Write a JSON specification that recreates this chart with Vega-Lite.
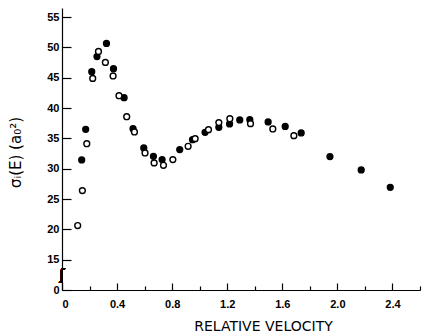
{
  "$schema": "https://vega.github.io/schema/vega-lite/v6.json",
  "width": 358,
  "height": 282,
  "autosize": "none",
  "padding": {"left": 62, "top": 8, "right": 10, "bottom": 45},
  "background": "white",
  "config": {
    "view": {"stroke": null},
    "axis": {"labelFont": "Liberation Sans", "titleFont": "Liberation Sans", "labelColor": "black", "titleColor": "black", "domainColor": "black", "tickColor": "black", "grid": false, "domainWidth": 1.2, "tickWidth": 1.2}
  },
  "data": {
    "values": [
      {"v": 0.143, "s": 31.45, "t": "filled"},
      {"v": 0.172, "s": 36.49, "t": "filled"},
      {"v": 0.216, "s": 46.0, "t": "filled"},
      {"v": 0.254, "s": 48.5, "t": "filled"},
      {"v": 0.323, "s": 50.66, "t": "filled"},
      {"v": 0.374, "s": 46.49, "t": "filled"},
      {"v": 0.451, "s": 41.71, "t": "filled"},
      {"v": 0.516, "s": 36.6, "t": "filled"},
      {"v": 0.594, "s": 33.43, "t": "filled"},
      {"v": 0.664, "s": 32.04, "t": "filled"},
      {"v": 0.727, "s": 31.5, "t": "filled"},
      {"v": 0.855, "s": 33.15, "t": "filled"},
      {"v": 0.948, "s": 34.79, "t": "filled"},
      {"v": 1.039, "s": 36.0, "t": "filled"},
      {"v": 1.139, "s": 36.82, "t": "filled"},
      {"v": 1.217, "s": 37.38, "t": "filled"},
      {"v": 1.291, "s": 38.04, "t": "filled"},
      {"v": 1.364, "s": 38.09, "t": "filled"},
      {"v": 1.497, "s": 37.71, "t": "filled"},
      {"v": 1.621, "s": 36.98, "t": "filled"},
      {"v": 1.737, "s": 35.9, "t": "filled"},
      {"v": 1.946, "s": 32.0, "t": "filled"},
      {"v": 2.173, "s": 29.8, "t": "filled"},
      {"v": 2.384, "s": 26.94, "t": "filled"},
      {"v": 0.114, "s": 20.63, "t": "open"},
      {"v": 0.148, "s": 26.39, "t": "open"},
      {"v": 0.18, "s": 34.13, "t": "open"},
      {"v": 0.223, "s": 44.89, "t": "open"},
      {"v": 0.265, "s": 49.34, "t": "open"},
      {"v": 0.315, "s": 47.53, "t": "open"},
      {"v": 0.371, "s": 45.29, "t": "open"},
      {"v": 0.414, "s": 42.04, "t": "open"},
      {"v": 0.47, "s": 38.58, "t": "open"},
      {"v": 0.526, "s": 36.06, "t": "open"},
      {"v": 0.603, "s": 32.6, "t": "open"},
      {"v": 0.669, "s": 30.96, "t": "open"},
      {"v": 0.737, "s": 30.56, "t": "open"},
      {"v": 0.805, "s": 31.5, "t": "open"},
      {"v": 0.916, "s": 33.69, "t": "open"},
      {"v": 0.967, "s": 34.96, "t": "open"},
      {"v": 1.064, "s": 36.44, "t": "open"},
      {"v": 1.139, "s": 37.6, "t": "open"},
      {"v": 1.219, "s": 38.25, "t": "open"},
      {"v": 1.369, "s": 37.43, "t": "open"},
      {"v": 1.531, "s": 36.56, "t": "open"},
      {"v": 1.684, "s": 35.45, "t": "open"}
    ]
  },
  "layer": [
    {
      "mark": {"type": "point", "shape": "circle", "filled": true, "stroke": "black", "strokeWidth": 1.4, "size": 34, "opacity": 1},
      "encoding": {
        "x": {
          "field": "v", "type": "quantitative",
          "scale": {"domain": [0, 2.6], "nice": false, "zero": false},
          "axis": {
            "orient": "top",
            "offset": -282,
            "values": [0, 0.2, 0.4, 0.6, 0.8, 1.0, 1.2, 1.4, 1.6, 1.8, 2.0, 2.2, 2.4, 2.6],
            "tickSize": {"condition": {"test": "round(datum.value*10) % 4 == 0", "value": 7}, "value": 4},
            "labelPadding": -15,
            "labelBaseline": "top",
            "labelFontSize": 11,
            "labelFontWeight": "bold",
            "labelExpr": "round(datum.value*10) % 4 == 0 ? (datum.value == 0 ? '0' : format(datum.value, '.1f')) : ''",
            "title": "RELATIVE VELOCITY",
            "titleFont": "DejaVu Sans",
            "titleFontSize": 14,
            "titleFontWeight": "normal",
            "titleX": 201,
            "titleY": 36,
            "titleAlign": "center",
            "titleBaseline": "middle"
          }
        },
        "y": {
          "field": "s", "type": "quantitative",
          "scale": {"domain": [10, 56.5], "nice": false, "zero": false},
          "axis": {
            "orient": "right",
            "offset": -358,
            "values": [10, 15, 20, 25, 30, 35, 40, 45, 50, 55],
            "tickSize": 9,
            "labelPadding": -12,
            "labelAlign": "right",
            "labelFontSize": 11,
            "labelFontWeight": "bold",
            "labelExpr": "datum.value == 10 ? '0' : datum.label",
            "title": "σᵢ(E) (a₀²)",
            "titleFont": "DejaVu Sans",
            "titleFontSize": 15,
            "titleFontWeight": "normal",
            "titleAngle": 270,
            "titleX": -47,
            "titleY": 144,
            "titleAlign": "center",
            "titleBaseline": "middle"
          }
        },
        "fill": {
          "field": "t", "type": "nominal",
          "scale": {"domain": ["filled", "open"], "range": ["black", "white"]},
          "legend": null
        }
      }
    },
    {
      "mark": {"type": "rule", "color": "white", "strokeWidth": 4},
      "encoding": {
        "x": {
          "datum": 0, "type": "quantitative",
          "scale": {"domain": [0, 2.6], "nice": false, "zero": false},
          "axis": {
            "orient": "top",
            "offset": -282,
            "values": [0, 0.2, 0.4, 0.6, 0.8, 1.0, 1.2, 1.4, 1.6, 1.8, 2.0, 2.2, 2.4, 2.6],
            "tickSize": {"condition": {"test": "round(datum.value*10) % 4 == 0", "value": 7}, "value": 4},
            "labelPadding": -15,
            "labelBaseline": "top",
            "labelFontSize": 11,
            "labelFontWeight": "bold",
            "labelExpr": "round(datum.value*10) % 4 == 0 ? (datum.value == 0 ? '0' : format(datum.value, '.1f')) : ''",
            "title": "RELATIVE VELOCITY",
            "titleFont": "DejaVu Sans",
            "titleFontSize": 14,
            "titleFontWeight": "normal",
            "titleX": 201,
            "titleY": 36,
            "titleAlign": "center",
            "titleBaseline": "middle"
          }
        },
        "y": {
          "datum": 11.4, "type": "quantitative",
          "scale": {"domain": [10, 56.5], "nice": false, "zero": false},
          "axis": {
            "orient": "right",
            "offset": -358,
            "values": [10, 15, 20, 25, 30, 35, 40, 45, 50, 55],
            "tickSize": 9,
            "labelPadding": -12,
            "labelAlign": "right",
            "labelFontSize": 11,
            "labelFontWeight": "bold",
            "labelExpr": "datum.value == 10 ? '0' : datum.label",
            "title": "σᵢ(E) (a₀²)",
            "titleFont": "DejaVu Sans",
            "titleFontSize": 15,
            "titleFontWeight": "normal",
            "titleAngle": 270,
            "titleX": -47,
            "titleY": 144,
            "titleAlign": "center",
            "titleBaseline": "middle"
          }
        },
        "y2": {"datum": 13.4}
      }
    },
    {
      "mark": {"type": "text", "text": "ʃ", "font": "DejaVu Sans", "fontSize": 15, "fill": "black", "align": "center", "baseline": "middle"},
      "encoding": {
        "x": {
          "datum": 0, "type": "quantitative",
          "scale": {"domain": [0, 2.6], "nice": false, "zero": false},
          "axis": {
            "orient": "top",
            "offset": -282,
            "values": [0, 0.2, 0.4, 0.6, 0.8, 1.0, 1.2, 1.4, 1.6, 1.8, 2.0, 2.2, 2.4, 2.6],
            "tickSize": {"condition": {"test": "round(datum.value*10) % 4 == 0", "value": 7}, "value": 4},
            "labelPadding": -15,
            "labelBaseline": "top",
            "labelFontSize": 11,
            "labelFontWeight": "bold",
            "labelExpr": "round(datum.value*10) % 4 == 0 ? (datum.value == 0 ? '0' : format(datum.value, '.1f')) : ''",
            "title": "RELATIVE VELOCITY",
            "titleFont": "DejaVu Sans",
            "titleFontSize": 14,
            "titleFontWeight": "normal",
            "titleX": 201,
            "titleY": 36,
            "titleAlign": "center",
            "titleBaseline": "middle"
          }
        },
        "y": {
          "datum": 12.4, "type": "quantitative",
          "scale": {"domain": [10, 56.5], "nice": false, "zero": false},
          "axis": {
            "orient": "right",
            "offset": -358,
            "values": [10, 15, 20, 25, 30, 35, 40, 45, 50, 55],
            "tickSize": 9,
            "labelPadding": -12,
            "labelAlign": "right",
            "labelFontSize": 11,
            "labelFontWeight": "bold",
            "labelExpr": "datum.value == 10 ? '0' : datum.label",
            "title": "σᵢ(E) (a₀²)",
            "titleFont": "DejaVu Sans",
            "titleFontSize": 15,
            "titleFontWeight": "normal",
            "titleAngle": 270,
            "titleX": -47,
            "titleY": 144,
            "titleAlign": "center",
            "titleBaseline": "middle"
          }
        }
      }
    }
  ]
}
